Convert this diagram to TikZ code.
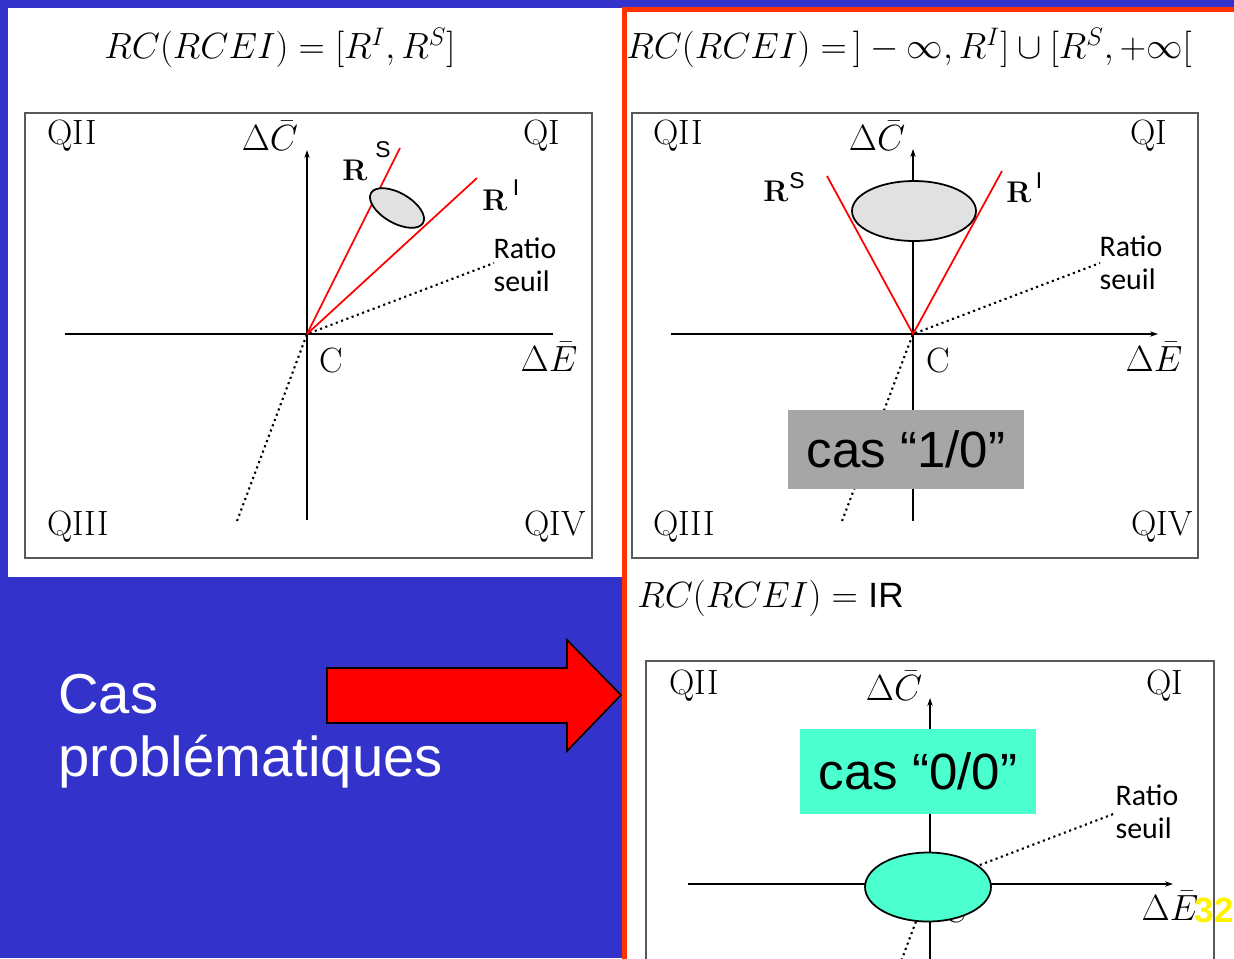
\documentclass[tikz,border=0pt]{standalone}
\usepackage{fontspec}
\setsansfont{Liberation Sans}
\newfontfamily\calibri{Carlito}
\usetikzlibrary{shapes.geometric,arrows.meta}
\definecolor{slideBlue}{RGB}{51,51,204}
\definecolor{frameRed}{RGB}{255,51,0}
\definecolor{ellGray}{RGB}{225,225,225}
\definecolor{boxGray}{RGB}{166,166,166}
\definecolor{casCyan}{RGB}{75,255,207}
\begin{document}
\begin{tikzpicture}[x=0.02cm,y=-0.02cm,
    quadLbl/.style={inner sep=0pt,font=\fontsize{20}{20}\selectfont},
    axisLn/.style={line width=0.7pt},
    axisArr/.style={line width=0.7pt,-{Stealth[length=4.5pt,width=3pt]}},
    plotBox/.style={draw=black!65,line width=0.8pt},
    redRay/.style={red,line width=1pt},
    ratioLn/.style={dotted,line width=1.2pt},
    ratioLbl/.style={inner sep=0pt,align=left,font=\calibri\fontsize{17}{19}\selectfont},
    rLbl/.style={inner sep=0pt,font=\bfseries\fontsize{17}{17}\selectfont},
    supLbl/.style={inner sep=0pt,font=\sffamily\fontsize{13}{13}\selectfont},
    eqLbl/.style={inner sep=0pt,font=\fontsize{20}{20}\selectfont},
    regionEll/.style={ellipse,draw,line width=1pt,inner sep=0pt},
    casBox/.style={inner sep=0pt,minimum width=4.74cm,font=\sffamily\fontsize{29}{29}\selectfont},
]
\useasboundingbox (0,0) rectangle (1234,958);
\clip (0,0) rectangle (1234,958);
% slide background
\fill[slideBlue] (0,0) rectangle (1234,958);
\fill[white] (8,8) rectangle (622,577);
\fill[white] (622,8) rectangle (1234,958);

% ---- left panel: [R^I,R^S]
\node[eqLbl] (eqL) at (280,48) {$RC(RCEI) = [R^I,R^S]$};
\draw[plotBox] (25,113) rectangle (592,558);
\coordinate (oL) at (307,334);
\coordinate (hLw) at (65,334);
\coordinate (hLe) at (553,334);
\coordinate (vLs) at (307,520);
\coordinate (vLn) at (307,150);
\coordinate (rsL) at (400,148);
\coordinate (riL) at (477,178);
\coordinate (ratL) at (494,263);
\coordinate (ratLb) at (237,521);
\draw[axisLn] (hLw) -- (hLe);
\draw[axisArr] (vLs) -- (vLn);
\draw[ratioLn] (ratLb) -- (oL) -- (ratL);
\draw[redRay] (oL) -- (rsL);
\draw[redRay] (oL) -- (riL);
\node[regionEll,fill=ellGray,minimum width=1.2cm,minimum height=0.6cm,rotate=-30] (ellL) at (397,208) {};
\node[quadLbl] (q2L) at (72,136) {QII};
\node[quadLbl] (dcL) at (270,136) {$\Delta\bar{C}$};
\node[quadLbl] (q1L) at (542,136) {QI};
\node[quadLbl] (cL) at (331,360) {C};
\node[quadLbl] (deL) at (549,357) {$\Delta\bar{E}$};
\node[quadLbl] (q3L) at (78,527) {QIII};
\node[quadLbl] (q4L) at (555,527) {QIV};
\node[rLbl] (rsLbl) at (355,170) {R};
\node[supLbl] (rsSup) at (383,150) {S};
\node[rLbl] (riLbl) at (495,200) {R};
\node[supLbl] (riSup) at (516,188) {I};
\node[ratioLbl] (ratLbl) at (525,265) {Ratio\\seuil};

% ---- right panel: ]-inf,R^I] u [R^S,+inf[
\node[eqLbl,anchor=west] (eqR) at (626,48) {$RC(RCEI) = \,]-\infty, R^I] \cup [R^S,+\infty[$};
\draw[plotBox] (632,113) rectangle (1198,558);
\coordinate (oR) at (913,334);
\coordinate (hRw) at (671,334);
\coordinate (hRe) at (1158,334);
\coordinate (vRs) at (913,521);
\coordinate (vRn) at (913,149);
\coordinate (rsR) at (827,176);
\coordinate (riR) at (1002,171);
\coordinate (ratR) at (1100,263);
\coordinate (ratRb) at (842,521);
\draw[axisArr] (hRw) -- (hRe);
\draw[axisArr] (vRs) -- (vRn);
\draw[ratioLn] (ratRb) -- (oR) -- (ratR);
\draw[redRay] (rsR) -- (oR) -- (riR);
\node[regionEll,fill=ellGray,minimum width=2.48cm,minimum height=1.2cm] (ellR) at (914,211) {};
\node[quadLbl] (q2R) at (678,136) {QII};
\node[quadLbl] (dcR) at (877,136) {$\Delta\bar{C}$};
\node[quadLbl] (q1R) at (1149,136) {QI};
\node[quadLbl] (cR) at (938,360) {C};
\node[quadLbl] (deR) at (1154,357) {$\Delta\bar{E}$};
\node[quadLbl] (q3R) at (684,527) {QIII};
\node[quadLbl] (q4R) at (1162,527) {QIV};
\node[rLbl] (rsRLbl) at (776,191) {R};
\node[supLbl] (rsRSup) at (797,181) {S};
\node[rLbl] (riRLbl) at (1019,192) {R};
\node[supLbl] (riRSup) at (1039,181) {I};
\node[ratioLbl] (ratRLbl) at (1131,263) {Ratio\\seuil};
\node[casBox,fill=boxGray,minimum height=1.58cm] (cas10) at (906,449) {cas “1/0”};

% ---- bottom panel: IR
\node[eqLbl,anchor=west] (eqB) at (637,598) {$RC(RCEI) =$ \textsf{IR}};
\draw[plotBox] (646,661) rectangle (1214,1000);
\coordinate (oB) at (930,884);
\coordinate (hBw) at (688,884);
\coordinate (hBe) at (1173,884);
\coordinate (vBs) at (930,990);
\coordinate (vBn) at (930,698);
\coordinate (ratB) at (1116,813);
\coordinate (ratBb) at (860,1071);
\draw[axisArr] (hBw) -- (hBe);
\draw[axisArr] (vBs) -- (vBn);
\draw[ratioLn] (ratBb) -- (oB) -- (ratB);
\node[quadLbl] (q2B) at (694,686) {QII};
\node[quadLbl] (dcB) at (894,686) {$\Delta\bar{C}$};
\node[quadLbl] (q1B) at (1165,686) {QI};
\node[quadLbl] (cB) at (955,910) {C};
\node[quadLbl] (deB) at (1170,906) {$\Delta\bar{E}$};
\node[ratioLbl] (ratBLbl) at (1147,812) {Ratio\\seuil};
\node[casBox,fill=casCyan,minimum height=1.7cm] (cas00) at (918,771) {cas “0/0”};
\node[regionEll,fill=casCyan,minimum width=2.52cm,minimum height=1.38cm] (ellB) at (928,887) {};
\node[inner sep=0pt,text=yellow,font=\sffamily\bfseries\fontsize{20}{20}\selectfont] (pgNum) at (1214,910) {32};

% ---- red frame and arrow
\draw[frameRed,line width=2.8pt] (624.5,970) -- (624.5,9.5) -- (1240,9.5);
\node[inner sep=0pt,anchor=base west,text=white,font=\sffamily\fontsize{32}{32}\selectfont] (casTxt) at (58,713) {Cas};
\node[inner sep=0pt,anchor=base west,text=white,font=\sffamily\fontsize{32}{32}\selectfont] (probTxt) at (58,776) {problématiques};
\draw[fill=red,line width=0.9pt] (327,668) -- (567,668) -- (567,640) -- (621,695)
    -- (567,751) -- (567,723) -- (327,723) -- cycle;
\end{tikzpicture}
\end{document}
